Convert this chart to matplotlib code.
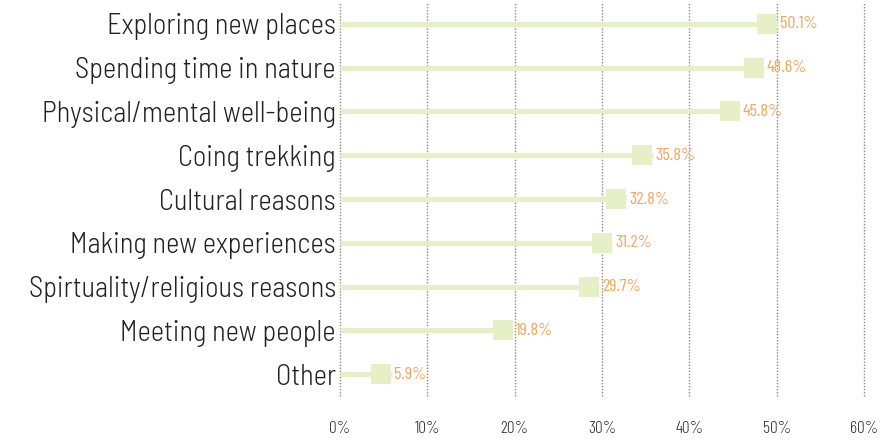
import matplotlib
matplotlib.use("Agg")
import matplotlib.pyplot as plt

plt.rcParams['font.family'] = ['Barlow Condensed', 'DejaVu Sans']

categories = ["Exploring new places", "Spending time in nature", "Physical/mental well-being",
              "Coing trekking", "Cultural reasons", "Making new experiences",
              "Spirtuality/religious reasons", "Meeting new people", "Other"]
values = [50.1, 48.6, 45.8, 35.8, 32.8, 31.2, 29.7, 19.8, 5.9]
xticks = [0, 10, 20, 30, 40, 50, 60]
xtick_labels = ["0%", "10%", "20%", "30%", "40%", "50%", "60%"]

fig = plt.figure(figsize=(8.84, 4.47), dpi=100)
ax = fig.add_axes([340/884, 1 - 396/447, 524/884, 394/447])

bar_color = "#e6efc6"
lab_color = "#f5a55a"
ys = list(range(len(categories)))

ax.set_xlim(0, 60)
ax.set_ylim(len(categories) - 0.5, -0.5)
for x in xticks:
    ax.axvline(x, color="#8a8a8a", lw=1.0, ls=(0, (1, 1.2)), zorder=0, clip_on=False)

sq = 20.5  # square size in px
px_per_unit = 524 / 60
for y, v in zip(ys, values):
    ax.hlines(y, 0, v, color=bar_color, lw=3.7, zorder=2)
    ax.plot([v - (sq / 2) / px_per_unit], [y], marker="s", ms=sq * 72 / 100,
            color=bar_color, mec=bar_color, mew=0, zorder=3, ls="none")
    ax.text(v + 0.3, y, f"{v}%", color=lab_color, fontsize=13, va="center", ha="left",
            zorder=4, fontweight=400)

ax.set_yticks(ys)
ax.set_yticklabels(categories, fontsize=20.5, color="#222222", fontweight=300,
                   family=['Barlow Semi Condensed', 'DejaVu Sans'])
ax.set_xticks(xticks)
ax.set_xticklabels(xtick_labels, fontsize=12.5, color="#333333", fontweight=300)
ax.tick_params(axis="both", length=0)
ax.tick_params(axis="x", pad=18)
ax.tick_params(axis="y", pad=3)
for s in ax.spines.values():
    s.set_visible(False)

fig.savefig("out.png", dpi=100)
